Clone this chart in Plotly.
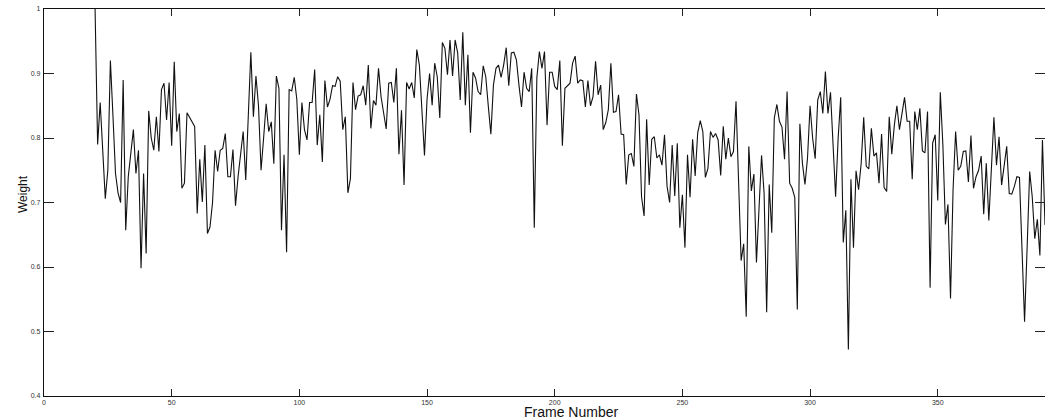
import plotly.graph_objects as go

FIRST_FRAME = 20

weights = [
    1.0, 0.79, 0.855, 0.78, 0.706, 0.75, 0.92, 0.835, 0.745, 0.715,
    0.70, 0.89, 0.657, 0.74, 0.775, 0.813, 0.745, 0.781, 0.598, 0.745,
    0.621, 0.842, 0.80, 0.781, 0.833, 0.779, 0.875, 0.885, 0.828, 0.886,
    0.788, 0.918, 0.81, 0.838, 0.722, 0.73, 0.839, 0.832, 0.825, 0.818,
    0.683, 0.767, 0.701, 0.789, 0.652, 0.662, 0.70, 0.781, 0.748, 0.781,
    0.784, 0.807, 0.74, 0.74, 0.782, 0.695, 0.74, 0.78, 0.81, 0.735,
    0.84, 0.933, 0.833, 0.896, 0.85, 0.75, 0.80, 0.853, 0.81, 0.825,
    0.76, 0.896, 0.877, 0.657, 0.774, 0.623, 0.875, 0.873, 0.894, 0.86,
    0.774, 0.855, 0.813, 0.797, 0.855, 0.855, 0.906, 0.789, 0.836, 0.763,
    0.889, 0.848, 0.86, 0.881, 0.88, 0.895, 0.888, 0.813, 0.833, 0.715,
    0.737, 0.886, 0.844, 0.865, 0.867, 0.881, 0.851, 0.913, 0.815, 0.858,
    0.851, 0.908, 0.864, 0.838, 0.814, 0.885, 0.886, 0.855, 0.908, 0.775,
    0.843, 0.727, 0.886, 0.876, 0.886, 0.862, 0.937, 0.913, 0.84, 0.773,
    0.86, 0.90, 0.851, 0.916, 0.895, 0.831, 0.948, 0.939, 0.898, 0.952,
    0.896, 0.952, 0.932, 0.859, 0.964, 0.851, 0.929, 0.808, 0.902, 0.893,
    0.872, 0.867, 0.912, 0.895, 0.849, 0.806, 0.882, 0.908, 0.913, 0.894,
    0.913, 0.94, 0.881, 0.932, 0.933, 0.921, 0.882, 0.848, 0.902, 0.877,
    0.872, 0.908, 0.661, 0.893, 0.934, 0.908, 0.934, 0.82, 0.902, 0.902,
    0.88, 0.875, 0.92, 0.788, 0.877, 0.881, 0.885, 0.916, 0.927, 0.885,
    0.89, 0.889, 0.848, 0.889, 0.85, 0.864, 0.919, 0.867, 0.882, 0.813,
    0.824, 0.844, 0.916, 0.84, 0.841, 0.867, 0.806, 0.805, 0.728, 0.774,
    0.776, 0.756, 0.868, 0.836, 0.709, 0.679, 0.829, 0.727, 0.798, 0.802,
    0.769, 0.774, 0.758, 0.805, 0.725, 0.70, 0.789, 0.71, 0.792, 0.661,
    0.712, 0.63, 0.774, 0.708, 0.798, 0.741, 0.808, 0.827, 0.81, 0.739,
    0.753, 0.81, 0.801, 0.807, 0.797, 0.742, 0.818, 0.767, 0.80, 0.771,
    0.779, 0.857, 0.74, 0.61, 0.636, 0.523, 0.787, 0.718, 0.744, 0.607,
    0.69, 0.773, 0.714, 0.53, 0.728, 0.653, 0.831, 0.852, 0.826, 0.817,
    0.767, 0.872, 0.73, 0.722, 0.708, 0.534, 0.822, 0.761, 0.728, 0.769,
    0.85, 0.80, 0.768, 0.859, 0.872, 0.838, 0.903, 0.838, 0.871, 0.79,
    0.709, 0.80, 0.863, 0.638, 0.688, 0.472, 0.736, 0.63, 0.749, 0.72,
    0.76, 0.832, 0.756, 0.752, 0.815, 0.772, 0.777, 0.73, 0.806, 0.723,
    0.717, 0.833, 0.775, 0.82, 0.85, 0.813, 0.84, 0.863, 0.826, 0.826,
    0.736, 0.841, 0.813, 0.846, 0.78, 0.777, 0.841, 0.568, 0.792, 0.805,
    0.703, 0.871, 0.79, 0.666, 0.697, 0.551, 0.72, 0.81, 0.75, 0.756,
    0.779, 0.78, 0.732, 0.804, 0.722, 0.74, 0.75, 0.772, 0.682, 0.761,
    0.672, 0.75, 0.832, 0.758, 0.802, 0.727, 0.76, 0.787, 0.714, 0.713,
    0.725, 0.74, 0.739, 0.62, 0.515, 0.63, 0.748, 0.709, 0.644, 0.674,
    0.618, 0.797, 0.665,
]
frames = list(range(FIRST_FRAME, FIRST_FRAME + len(weights)))

x_tick_vals = [0, 50, 100, 150, 200, 250, 300, 350]
y_tick_vals = [0.4, 0.5, 0.6, 0.7, 0.8, 0.9, 1.0]
y_tick_text = ["0.4", "0.5", "0.6", "0.7", "0.8", "0.9", "1"]

x_label = "Frame Number"
y_label = "Weight"

W, H = 1045, 419
ML, MR, MT, MB = 44, 0, 9, 23
plot_w = W - ML - MR
plot_h = H - MT - MB

fig = go.Figure()
fig.add_trace(go.Scatter(
    x=frames, y=weights, mode="lines",
    line=dict(color="#111111", width=1.1),
    showlegend=False, hoverinfo="skip",
))

tick_font = dict(family="Liberation Sans, Arial, sans-serif", size=7, color="#333333")

fig.update_layout(
    width=W, height=H,
    margin=dict(l=ML, r=MR, t=MT, b=MB, pad=0),
    paper_bgcolor="white", plot_bgcolor="white",
    xaxis=dict(
        range=[0, 392], tickvals=x_tick_vals, ticks="inside", ticklen=7,
        tickcolor="#222222", showline=True, linecolor="#111111", linewidth=1.3,
        mirror="ticks", showgrid=False, zeroline=False, tickfont=tick_font,
        ticklabelstandoff=-1, fixedrange=True,
    ),
    yaxis=dict(
        range=[0.4, 1.0], tickvals=y_tick_vals, ticktext=y_tick_text,
        ticks="inside", ticklen=10, tickcolor="#222222", showline=True,
        linecolor="#111111", linewidth=1.3, mirror="ticks", showgrid=False,
        zeroline=False, tickfont=tick_font, ticklabelstandoff=1,
        fixedrange=True,
    ),
    annotations=[
        dict(text=x_label, xref="paper", yref="paper",
             x=(571 - ML) / plot_w, y=-(412 - (H - MB)) / plot_h,
             xanchor="center", yanchor="middle", showarrow=False,
             font=dict(family="Liberation Sans, Arial, sans-serif", size=14, color="#111111")),
        dict(text=y_label, xref="paper", yref="paper",
             x=(23 - ML) / plot_w, y=((H - MB) - 194) / plot_h,
             xanchor="center", yanchor="middle", showarrow=False, textangle=-90,
             font=dict(family="Liberation Sans, Arial, sans-serif", size=12, color="#111111")),
    ],
)

fig.write_html("out.html", config={"displayModeBar": False})
